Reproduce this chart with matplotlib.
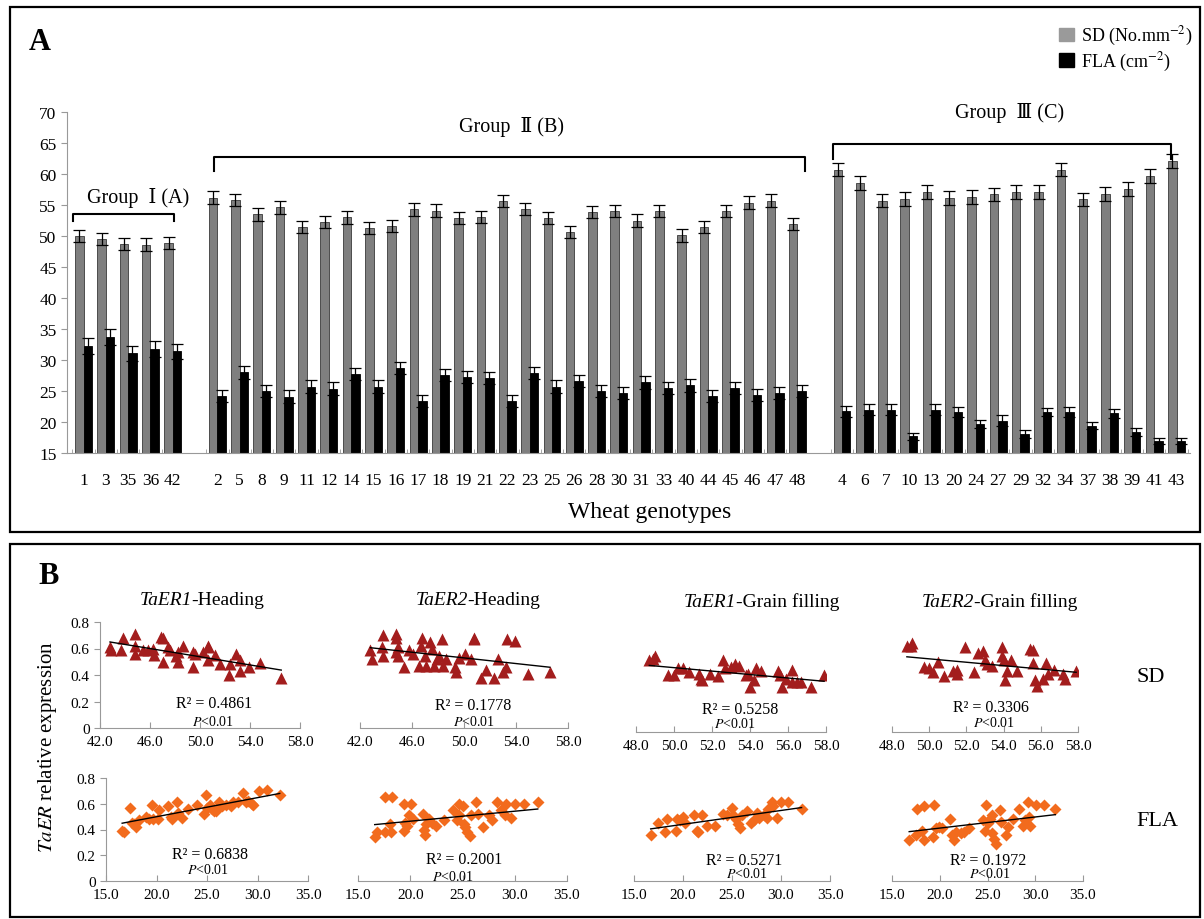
import numpy as np
import matplotlib.pyplot as plt
from matplotlib.patches import Rectangle, Patch

plt.rcParams.update({'font.family': ['Liberation Serif', 'DejaVu Serif'],
                     'mathtext.fontset': 'stix'})

W, H = 1204, 920

# %% data — panel A (stomatal density / flag leaf area per genotype)
g1_ids = ['1', '3', '35', '36', '42']
g2_ids = ['2', '5', '8', '9', '11', '12', '14', '15', '16', '17', '18', '19', '21', '22',
          '23', '25', '26', '28', '30', '31', '33', '40', '44', '45', '46', '47', '48']
g3_ids = ['4', '6', '7', '10', '13', '20', '24', '27', '29', '32', '34', '37', '38', '39',
          '41', '43']

sd_g1 = [50.0, 49.5, 48.7, 48.6, 48.9]
sd_g2 = [56.2, 55.8, 53.5, 54.6, 51.5, 52.3, 53.0, 51.3, 51.6, 54.3, 54.1, 52.9, 53.1, 55.6,
         54.4, 52.9, 50.6, 53.9, 54.0, 52.5, 54.0, 50.1, 51.5, 54.0, 55.4, 55.7, 51.9]
sd_g3 = [60.7, 58.5, 55.7, 56.0, 57.1, 56.1, 56.3, 56.7, 57.1, 57.1, 60.7, 55.9, 56.8, 57.6,
         59.7, 62.1]
fla_g1 = [32.3, 33.7, 31.1, 31.8, 31.4]
fla_g2 = [24.2, 28.0, 25.0, 24.1, 25.7, 25.4, 27.7, 25.7, 28.7, 23.4, 27.6, 27.3, 27.1, 23.4,
          27.9, 25.7, 26.6, 25.0, 24.7, 26.4, 25.5, 25.9, 24.2, 25.5, 24.4, 24.7, 25.0]
fla_g3 = [21.7, 22.0, 22.0, 17.7, 22.0, 21.6, 19.7, 20.2, 18.1, 21.6, 21.6, 19.4, 21.4, 18.4,
          16.9, 17.0]
sd_err_g1 = [1.0, 1.0, 1.0, 1.0, 1.0]
sd_err_g2 = [1.0] * 27
sd_err_g3 = [1.1] * 16
fla_err_g1 = [1.3, 1.3, 1.2, 1.3, 1.2]
fla_err_g2 = [1.0] * 27
fla_err_g3 = [0.9, 0.9, 0.9, 0.6, 0.9, 0.8, 0.7, 0.9, 0.6, 0.6, 0.8, 0.6, 0.7, 0.6, 0.5, 0.5]

# %% data — panel B (TaER expression vs trait), x = trait, y = relative expression
sd_h1_x = [42.8, 42.9, 43.8, 43.7, 44.8, 44.8, 44.8, 45.4, 45.8, 46.2, 46.3, 46.9, 47.0, 47.0,
           47.4, 47.6, 48.2, 48.2, 48.1, 48.6, 49.4, 49.4, 49.6, 50.2, 50.6, 50.6, 50.6, 51.2,
           51.6, 52.3, 52.4, 52.9, 53.2, 53.2, 53.9, 54.8, 56.5]
sd_h1_y = [0.61, 0.59, 0.68, 0.59, 0.71, 0.62, 0.56, 0.59, 0.59, 0.60, 0.55, 0.69, 0.68, 0.50,
           0.61, 0.59, 0.57, 0.50, 0.54, 0.62, 0.57, 0.46, 0.56, 0.57, 0.62, 0.61, 0.51, 0.55,
           0.48, 0.40, 0.48, 0.56, 0.43, 0.51, 0.46, 0.49, 0.38]
sd_h2_x = [42.8, 42.9, 43.7, 43.8, 43.8, 44.8, 44.8, 44.9, 44.8, 44.9, 45.4, 45.8, 46.1, 46.5,
           46.8, 46.7, 47.0, 47.1, 47.4, 47.5, 47.7, 47.9, 48.1, 48.3, 48.4, 48.6, 49.3, 49.4,
           49.6, 50.1, 50.5, 50.8, 50.8, 51.3, 51.7, 52.3, 52.6, 53.0, 53.2, 53.3, 53.9, 54.9,
           56.6]
sd_h2_y = [0.59, 0.52, 0.61, 0.70, 0.54, 0.71, 0.68, 0.61, 0.57, 0.54, 0.46, 0.59, 0.56, 0.47,
           0.68, 0.62, 0.54, 0.47, 0.65, 0.60, 0.47, 0.52, 0.54, 0.67, 0.47, 0.52, 0.46, 0.42,
           0.53, 0.56, 0.52, 0.67, 0.68, 0.38, 0.44, 0.38, 0.52, 0.42, 0.46, 0.67, 0.66, 0.41,
           0.42]
sd_g1x = [48.7, 48.9, 49.0, 49.7, 50.0, 50.2, 50.5, 50.8, 51.3, 51.4, 51.5, 51.9, 52.3, 52.6,
          52.7, 53.0, 53.2, 53.4, 53.8, 53.9, 54.0, 54.2, 54.3, 54.6, 55.5, 55.6, 55.7, 55.9,
          56.2, 56.2, 56.5, 56.7, 57.2, 57.9]
sd_g1y = [0.54, 0.55, 0.57, 0.43, 0.43, 0.48, 0.48, 0.45, 0.44, 0.40, 0.39, 0.44, 0.42, 0.54,
          0.48, 0.49, 0.51, 0.50, 0.43, 0.44, 0.34, 0.39, 0.48, 0.46, 0.46, 0.43, 0.34, 0.40,
          0.47, 0.38, 0.38, 0.38, 0.34, 0.43]
sd_g2x = [48.8, 49.0, 49.1, 49.7, 50.0, 50.2, 50.5, 50.8, 51.3, 51.5, 51.5, 51.9, 52.4, 52.6,
          52.9, 53.0, 53.1, 53.4, 53.9, 53.9, 54.0, 54.1, 54.2, 54.4, 54.7, 55.4, 55.6, 55.6,
          55.7, 55.8, 56.1, 56.3, 56.4, 56.7, 57.2, 57.3, 57.9]
sd_g2y = [0.65, 0.65, 0.67, 0.49, 0.48, 0.45, 0.53, 0.42, 0.46, 0.47, 0.44, 0.64, 0.45, 0.60,
          0.61, 0.54, 0.51, 0.50, 0.64, 0.57, 0.54, 0.39, 0.46, 0.54, 0.46, 0.63, 0.62, 0.52,
          0.39, 0.35, 0.40, 0.52, 0.44, 0.47, 0.44, 0.40, 0.46]
fla_h1_x = [16.6, 16.8, 17.4, 17.6, 17.8, 18.0, 18.3, 19.0, 19.3, 19.6, 19.7, 20.1, 20.2, 21.1,
            21.4, 21.5, 22.0, 22.1, 22.5, 23.1, 24.0, 24.7, 24.9, 25.0, 25.3, 25.5, 25.7, 25.9,
            26.2, 26.5, 26.9, 27.4, 27.6, 28.1, 28.6, 28.9, 29.1, 29.5, 29.6, 30.1, 30.9, 32.2]
fla_h1_y = [0.39, 0.38, 0.57, 0.45, 0.44, 0.42, 0.47, 0.50, 0.48, 0.59, 0.48, 0.48, 0.55, 0.58,
            0.50, 0.48, 0.61, 0.53, 0.49, 0.56, 0.59, 0.52, 0.67, 0.57, 0.59, 0.56, 0.54, 0.54,
            0.61, 0.58, 0.59, 0.58, 0.61, 0.61, 0.68, 0.61, 0.62, 0.60, 0.59, 0.70, 0.71, 0.67]
fla_h2_x = [16.6, 16.8, 17.6, 17.6, 18.1, 18.3, 18.2, 19.4, 19.4, 19.5, 19.7, 19.9, 20.1, 20.3,
            21.2, 21.3, 21.4, 21.5, 21.8, 22.1, 22.5, 23.2, 24.1, 24.5, 24.7, 24.7, 25.0, 25.1,
            25.2, 25.4, 25.7, 25.8, 26.3, 26.5, 27.0, 27.5, 27.8, 28.3, 28.7, 29.1, 29.2, 29.6,
            30.0, 30.9, 32.2]
fla_h2_y = [0.34, 0.38, 0.65, 0.38, 0.44, 0.65, 0.38, 0.60, 0.39, 0.45, 0.43, 0.51, 0.60, 0.48,
            0.52, 0.40, 0.36, 0.44, 0.48, 0.45, 0.43, 0.47, 0.55, 0.47, 0.51, 0.60, 0.58, 0.44,
            0.42, 0.38, 0.35, 0.51, 0.61, 0.52, 0.42, 0.51, 0.47, 0.61, 0.55, 0.51, 0.60, 0.49,
            0.60, 0.60, 0.61]
fla_g1x = [16.7, 17.5, 18.2, 18.4, 19.3, 19.4, 19.7, 20.0, 20.2, 21.1, 21.4, 21.5, 21.9, 22.4,
           23.3, 24.1, 24.5, 25.0, 25.1, 25.4, 25.6, 25.8, 26.0, 26.5, 26.9, 27.2, 27.6, 27.8,
           28.3, 28.6, 28.7, 29.1, 29.2, 29.6, 30.0, 30.7, 32.1]
fla_g1y = [0.36, 0.45, 0.38, 0.48, 0.39, 0.48, 0.47, 0.50, 0.45, 0.51, 0.39, 0.38, 0.51, 0.43,
           0.43, 0.52, 0.51, 0.57, 0.51, 0.48, 0.44, 0.41, 0.51, 0.54, 0.45, 0.47, 0.53, 0.49,
           0.51, 0.49, 0.56, 0.61, 0.58, 0.49, 0.61, 0.61, 0.56]
fla_g2x = [16.8, 17.5, 17.6, 18.1, 18.3, 18.4, 19.3, 19.4, 19.6, 19.9, 20.2, 21.1, 21.3, 21.5,
           21.7, 22.2, 22.5, 23.1, 24.5, 24.7, 24.8, 25.1, 25.3, 25.5, 25.5, 25.7, 25.9, 26.3,
           26.4, 26.9, 27.1, 27.7, 28.3, 28.7, 28.9, 29.2, 29.3, 29.5, 30.1, 30.9, 32.1]
fla_g2y = [0.32, 0.36, 0.56, 0.39, 0.32, 0.58, 0.34, 0.59, 0.41, 0.42, 0.41, 0.48, 0.36, 0.32,
           0.38, 0.37, 0.38, 0.41, 0.47, 0.39, 0.59, 0.45, 0.48, 0.51, 0.37, 0.33, 0.29, 0.55,
           0.46, 0.36, 0.42, 0.48, 0.56, 0.43, 0.47, 0.61, 0.50, 0.43, 0.59, 0.59, 0.56]

scatter_panels = [  # (x, y, xlim, xticks, R2 text)
    (sd_h1_x, sd_h1_y, (42, 58), [42, 46, 50, 54, 58], 'R² = 0.4861'),
    (sd_h2_x, sd_h2_y, (42, 58), [42, 46, 50, 54, 58], 'R² = 0.1778'),
    (sd_g1x, sd_g1y, (48, 58), [48, 50, 52, 54, 56, 58], 'R² = 0.5258'),
    (sd_g2x, sd_g2y, (48, 58), [48, 50, 52, 54, 56, 58], 'R² = 0.3306'),
    (fla_h1_x, fla_h1_y, (15, 35), [15, 20, 25, 30, 35], 'R² = 0.6838'),
    (fla_h2_x, fla_h2_y, (15, 35), [15, 20, 25, 30, 35], 'R² = 0.2001'),
    (fla_g1x, fla_g1y, (15, 35), [15, 20, 25, 30, 35], 'R² = 0.5271'),
    (fla_g2x, fla_g2y, (15, 35), [15, 20, 25, 30, 35], 'R² = 0.1972'),
]
col_titles = [('TaER1', '-Heading'), ('TaER2', '-Heading'),
              ('TaER1', '-Grain filling'), ('TaER2', '-Grain filling')]
title_px = [(202, 605), (478, 605), (762, 607), (1000, 607)]
# pixel boxes (x0, x1, ytop, ybottom) and label anchors for each scatter panel
panel_px = [(100, 300, 623, 729), (360, 568, 623, 729), (636, 826, 627, 733), (892, 1078, 627, 733),
            (106, 308, 779, 882), (358, 567, 779, 882), (634, 830, 779, 882), (892, 1083, 779, 882)]
r2_pos = [(51.1, 0.19, 51.0, 0.05), (50.7, 0.17, 50.8, 0.05), (53.5, 0.17, 53.2, 0.065),
          (53.3, 0.19, 53.5, 0.075), (25.3, 0.21, 25.1, 0.09), (25.2, 0.17, 24.1, 0.04),
          (26.2, 0.165, 26.5, 0.06), (25.1, 0.165, 25.3, 0.06)]


def rect(x0, x1, y0, y1):
    return [x0 / W, 1 - y1 / H, (x1 - x0) / W, (y1 - y0) / H]


fig = plt.figure(figsize=(W / 100, H / 100), dpi=100)
renderer = fig.canvas.get_renderer()


def mixed_text(xc, yb, it_part, rm_part, size):
    """italic gene name + roman suffix, centred on xc (pixels), baseline yb."""
    t1 = fig.text(0, 1 - yb / H, it_part, style='italic', fontsize=size, va='baseline')
    t2 = fig.text(0, 1 - yb / H, rm_part, fontsize=size, va='baseline')
    w1 = t1.get_window_extent(renderer).width
    w2 = t2.get_window_extent(renderer).width
    x0 = xc - (w1 + w2) / 2
    t1.set_x(x0 / W)
    t2.set_x((x0 + w1) / W)


# outer boxes
for (x0, x1, y0, y1) in [(10, 1200, 8, 533), (10, 1200, 545, 918)]:
    fig.patches.append(Rectangle((x0 / W, 1 - y1 / H), (x1 - x0) / W, (y1 - y0) / H,
                                 transform=fig.transFigure, fill=False, lw=1.6, ec='k'))

# %% panel A
axA = fig.add_axes(rect(67, 1190, 113, 454))
ids = g1_ids + g2_ids + g3_ids
sd = sd_g1 + sd_g2 + sd_g3
fla = fla_g1 + fla_g2 + fla_g3
sd_err = sd_err_g1 + sd_err_g2 + sd_err_g3
fla_err = fla_err_g1 + fla_err_g2 + fla_err_g3
pos = np.r_[np.arange(len(g1_ids)),
            np.arange(len(g2_ids)) + len(g1_ids) + 1,
            np.arange(len(g3_ids)) + len(g1_ids) + len(g2_ids) + 2]
bw = 0.38
axA.bar(pos - bw / 2, np.array(sd) - 15, bw, bottom=15, color='#7f7f7f', ec='#3a3a3a', lw=0.6)
axA.bar(pos + bw / 2, np.array(fla) - 15, bw, bottom=15, color='k', ec='k', lw=0.6)
axA.errorbar(pos - bw / 2, sd, yerr=sd_err, fmt='none', ecolor='k', elinewidth=0.9,
             capsize=4, capthick=0.9)
axA.errorbar(pos + bw / 2, fla, yerr=fla_err, fmt='none', ecolor='k', elinewidth=0.9,
             capsize=4, capthick=0.9)
axA.set_xlim(-0.74, 49.6)
axA.set_ylim(15, 70)
axA.set_yticks(range(15, 71, 5))
axA.set_xticks(pos)
axA.set_xticklabels(ids)
axA.set_xticks(np.r_[pos - 0.5, pos[-1] + 0.5], minor=True)
axA.tick_params(axis='x', which='major', length=0, pad=14, labelsize=12.5)
axA.tick_params(axis='x', which='minor', length=3, color='#999999', direction='in')
axA.tick_params(axis='y', length=4, color='#999999', labelsize=12.5)
for s in ['top', 'right']:
    axA.spines[s].set_visible(False)
for s in ['left', 'bottom']:
    axA.spines[s].set_color('#999999')
fig.text(650 / W, 1 - 513 / H, 'Wheat genotypes', fontsize=17, ha='center', va='center')

# group brackets
brackets = [(-0.48, 4.05, 53.5, 52.4, 2.45, 56.3, 'Group  Ⅰ (A)'),
            (5.84, 32.35, 62.7, 60.5, 19.2, 67.7, 'Group  Ⅱ (B)'),
            (33.6, 48.75, 64.8, 62.4, 41.5, 70.0, 'Group  Ⅲ (C)')]
for x0, x1, yt, yd, tx, ty, lab in brackets:
    axA.plot([x0, x0, x1, x1], [yd, yt, yt, yd], color='k', lw=1.5, clip_on=False)
    axA.text(tx, ty, lab, ha='center', va='center', fontsize=14.5, clip_on=False)

fig.text(40 / W, 1 - 42 / H, 'A', fontsize=22, fontweight='bold', ha='center', va='center')
fig.legend(handles=[Patch(fc='#9a9a9a', ec='#9a9a9a'), Patch(fc='k', ec='k')],
           labels=['SD (No.mm$^{-2}$)', 'FLA (cm$^{-2}$)'], loc='upper left',
           bbox_to_anchor=(1052 / W, 1 - 18 / H), frameon=False, fontsize=13,
           handlelength=0.8, handleheight=0.8, handletextpad=0.4, labelspacing=0.15,
           borderaxespad=0)

# %% panel B
for i, (x, y, xl, xt, r2) in enumerate(scatter_panels):
    ax = fig.add_axes(rect(*panel_px[i]))
    sdrow = i < 4
    ax.plot(x, y, ls='none', marker='^' if sdrow else 'D',
            ms=8 if sdrow else 6, color='#a31d1d' if sdrow else '#f26b1d', mec='none')
    k, b = np.polyfit(x, y, 1)
    xx = np.array([min(x), max(x)])
    ax.plot(xx, k * xx + b, color='k', lw=1)
    ax.set_xlim(*xl)
    ax.set_ylim(0, 0.8)
    ax.set_xticks(xt)
    ax.set_xticklabels([f'{v:.1f}' for v in xt])
    ax.tick_params(axis='x', length=4, direction='in', color='#999999', labelsize=11, pad=5)
    for s in ['top', 'right']:
        ax.spines[s].set_visible(False)
    ax.spines['bottom'].set_color('#999999')
    if i % 4 == 0:
        ax.set_yticks([0, 0.2, 0.4, 0.6, 0.8])
        ax.set_yticklabels(['0', '0.2', '0.4', '0.6', '0.8'])
        ax.tick_params(axis='y', length=4, color='#999999', labelsize=11)
        ax.spines['left'].set_color('#999999')
    else:
        ax.set_yticks([])
        ax.spines['left'].set_visible(False)
    rx, ry, px, py = r2_pos[i]
    ax.text(rx, ry, r2, ha='center', va='center', fontsize=11.5)
    ax.text(px, py, r'$\it{P}$<0.01', ha='center', va='center', fontsize=10)

for (gene, stage), (xc, yb) in zip(col_titles, title_px):
    mixed_text(xc, yb, gene, stage, 14)

fig.text(49 / W, 1 - 577 / H, 'B', fontsize=22, fontweight='bold', ha='center', va='center')
fig.text(48 / W, 1 - 747 / H, r'$\mathit{TaER}$ relative expression', rotation=90,
         fontsize=15, ha='center', va='center')
fig.text(1151 / W, 1 - 677 / H, 'SD', fontsize=16, ha='center', va='center')
fig.text(1157 / W, 1 - 822 / H, 'FLA', fontsize=16, ha='center', va='center')

fig.savefig('out.png', dpi=100)
